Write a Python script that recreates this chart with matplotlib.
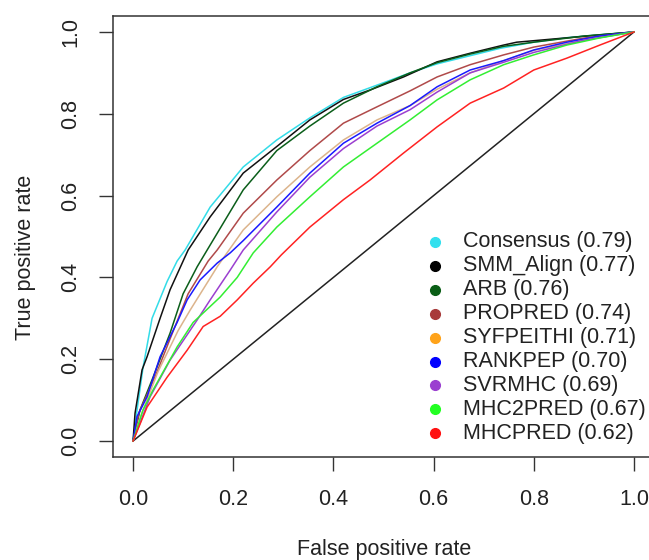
import matplotlib
matplotlib.use("Agg")
import matplotlib.pyplot as plt
from matplotlib.lines import Line2D

plt.rcParams['font.family'] = ['Liberation Sans', 'DejaVu Sans']

# ROC curves (false positive rate, true positive rate)
names = ["Consensus", "SMM_Align", "ARB", "PROPRED", "SYFPEITHI",
         "RANKPEP", "SVRMHC", "MHC2PRED", "MHCPRED"]
aucs = [0.79, 0.77, 0.76, 0.74, 0.71, 0.70, 0.69, 0.67, 0.62]

consensus_x = [0, 0.008, 0.02, 0.038, 0.068, 0.088, 0.104, 0.154, 0.22, 0.287,
               0.353, 0.42, 0.487, 0.553, 0.607, 0.673, 0.733, 0.8, 0.866, 0.93, 1.0]
consensus_y = [0, 0.076, 0.18, 0.30, 0.39, 0.44, 0.467, 0.572, 0.67, 0.736,
               0.79, 0.84, 0.87, 0.90, 0.922, 0.942, 0.96, 0.975, 0.986, 0.993, 1.0]

smm_x = [0, 0.004, 0.018, 0.028, 0.054, 0.074, 0.11, 0.154, 0.22, 0.287, 0.353,
         0.42, 0.473, 0.54, 0.607, 0.673, 0.74, 0.766, 1.0]
smm_y = [0, 0.068, 0.174, 0.206, 0.30, 0.37, 0.467, 0.548, 0.655, 0.72, 0.785,
         0.835, 0.858, 0.89, 0.927, 0.948, 0.968, 0.975, 1.0]

arb_x = [0, 0.014, 0.04, 0.074, 0.1, 0.128, 0.148, 0.22, 0.287, 0.353, 0.42,
         0.487, 0.553, 0.607, 0.673, 0.74, 0.8, 0.9, 1.0]
arb_y = [0, 0.076, 0.156, 0.264, 0.36, 0.426, 0.467, 0.614, 0.71, 0.77, 0.826,
         0.866, 0.90, 0.925, 0.946, 0.965, 0.975, 0.99, 1.0]

propred_x = [0, 0.012, 0.045, 0.074, 0.11, 0.15, 0.168, 0.22, 0.287, 0.353, 0.42,
             0.487, 0.553, 0.607, 0.673, 0.74, 0.8, 0.9, 1.0]
propred_y = [0, 0.07, 0.16, 0.25, 0.36, 0.44, 0.467, 0.557, 0.638, 0.71, 0.777,
             0.817, 0.856, 0.89, 0.92, 0.944, 0.963, 0.985, 1.0]

syf_x = [0, 0.015, 0.05, 0.09, 0.114, 0.168, 0.22, 0.287, 0.353, 0.42, 0.487,
         0.553, 0.607, 0.673, 0.74, 0.8, 0.9, 1.0]
syf_y = [0, 0.06, 0.17, 0.27, 0.32, 0.426, 0.516, 0.597, 0.67, 0.736, 0.785,
         0.82, 0.86, 0.90, 0.93, 0.955, 0.98, 1.0]

rankpep_x = [0, 0.008, 0.028, 0.054, 0.088, 0.108, 0.134, 0.168, 0.194, 0.22,
             0.287, 0.353, 0.42, 0.487, 0.553, 0.607, 0.673, 0.74, 0.8, 0.866, 0.93, 1.0]
rankpep_y = [0, 0.06, 0.108, 0.206, 0.29, 0.345, 0.394, 0.435, 0.46, 0.49,
             0.572, 0.655, 0.728, 0.777, 0.82, 0.866, 0.907, 0.93, 0.956, 0.975, 0.99, 1.0]

svrmhc_x = [0, 0.014, 0.034, 0.074, 0.128, 0.154, 0.194, 0.22, 0.287, 0.353,
            0.42, 0.487, 0.553, 0.607, 0.673, 0.74, 0.8, 0.9, 1.0]
svrmhc_y = [0, 0.044, 0.108, 0.198, 0.296, 0.345, 0.418, 0.467, 0.56, 0.645,
            0.715, 0.77, 0.81, 0.853, 0.90, 0.926, 0.95, 0.98, 1.0]

mhc2_x = [0, 0.02, 0.04, 0.088, 0.12, 0.174, 0.208, 0.24, 0.287, 0.353, 0.42,
          0.487, 0.553, 0.607, 0.673, 0.74, 0.8, 0.866, 0.93, 1.0]
mhc2_y = [0, 0.076, 0.125, 0.23, 0.29, 0.352, 0.40, 0.46, 0.523, 0.597, 0.67,
          0.728, 0.785, 0.834, 0.883, 0.92, 0.944, 0.968, 0.985, 1.0]

mhcpred_x = [0, 0.028, 0.068, 0.108, 0.14, 0.174, 0.208, 0.24, 0.274, 0.296,
             0.353, 0.42, 0.473, 0.54, 0.607, 0.673, 0.74, 0.8, 0.866, 0.932, 1.0]
mhcpred_y = [0, 0.083, 0.156, 0.222, 0.28, 0.305, 0.345, 0.386, 0.426, 0.455,
             0.523, 0.59, 0.638, 0.704, 0.768, 0.826, 0.863, 0.907, 0.936, 0.968, 1.0]

curves = [(consensus_x, consensus_y), (smm_x, smm_y), (arb_x, arb_y),
          (propred_x, propred_y), (syf_x, syf_y), (rankpep_x, rankpep_y),
          (svrmhc_x, svrmhc_y), (mhc2_x, mhc2_y), (mhcpred_x, mhcpred_y)]

line_colors = ["#33dce8", "#111111", "#0b5e1a", "#b04a4a", "#dcb48c",
               "#1a1aff", "#9b3fd0", "#33ee33", "#ff2222"]
dot_colors = ["#33e0ee", "#000000", "#0a5e16", "#a83a3a", "#ffa31a",
              "#0000ff", "#9b3fd0", "#22ff22", "#ff1111"]

fig = plt.figure(figsize=(6.49, 5.6), dpi=100)
W, H = 649, 560
# axes box in pixels: left 113, right 654, top 15.6, bottom 457.4
ax = fig.add_axes([113 / W, 1 - 457.4 / H, 541 / W, 441.8 / H])

ax.plot([0, 1], [0, 1], color="#222222", lw=1.1)
for (xs, ys), c in zip(curves, line_colors):
    ax.plot(xs, ys, color=c, lw=1.1)

ax.set_xlim(-0.04, 1.04)
ax.set_ylim(-0.04, 1.04)
ticks = [0.0, 0.2, 0.4, 0.6, 0.8, 1.0]
ax.set_xticks(ticks)
ax.set_yticks(ticks)
ax.set_xticklabels(["%.1f" % t for t in ticks])
ax.set_yticklabels(["%.1f" % t for t in ticks], rotation=90, va="center")
ax.tick_params(direction="out", length=10, width=1, color="#333333",
               labelsize=15.5, labelcolor="#222222", pad=13)
for s in ax.spines.values():
    s.set_linewidth(1.1)
    s.set_color("#333333")

fig.text(384 / W, 1 - 549 / H, "False positive rate", ha="center", va="center",
         fontsize=15.5, color="#222222")
fig.text(26 / W, 1 - 257 / H, "True positive rate", ha="center", va="center",
         rotation=90, fontsize=15.5, color="#222222")

# legend drawn by hand, in pixel positions
for i, (n, a) in enumerate(zip(names, aucs)):
    ypix = 242 + i * 23.9
    fig.add_artist(Line2D([435 / W], [1 - ypix / H], marker="o", markersize=7,
                          color=dot_colors[i], ls="none",
                          transform=fig.transFigure))
    fig.text(463 / W, 1 - ypix / H, "%s (%.2f)" % (n, a), ha="left",
             va="center", fontsize=15.5, color="#222222")

fig.savefig("out.png", dpi=100)
